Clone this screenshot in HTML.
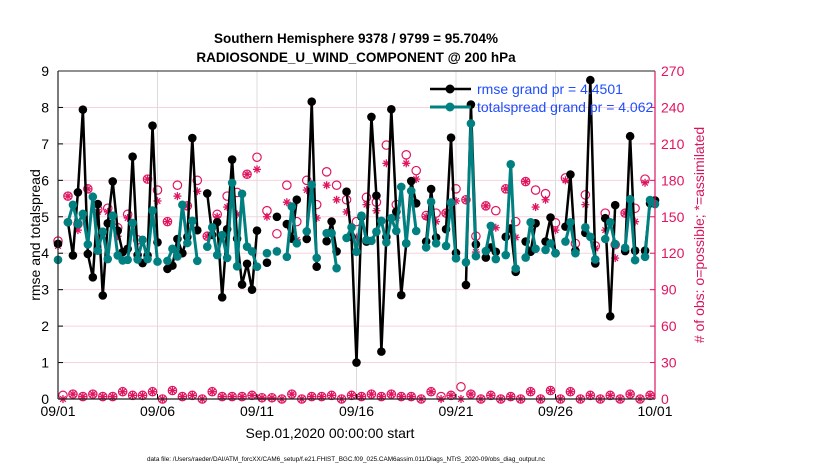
<!DOCTYPE html>
<html><head><meta charset="utf-8"><style>
html,body{margin:0;padding:0;background:#fff;}
svg{display:block;font-family:"Liberation Sans",Arial,sans-serif;}
</style></head><body>
<svg id="chart" width="830" height="470" viewBox="0 0 830 470" xmlns="http://www.w3.org/2000/svg">
<g id="grid"></g>
<g id="bottomObs"></g>
<g id="topObs"></g>
<g id="series"></g>
<g id="axes"></g>
<text x="356" y="43" text-anchor="middle" font-size="13.5" font-weight="bold">Southern Hemisphere 9378 / 9799 = 95.704%</text>
<text x="356" y="62" text-anchor="middle" font-size="13.5" font-weight="bold">RADIOSONDE_U_WIND_COMPONENT @ 200 hPa</text>
<text transform="translate(40,235) rotate(-90)" text-anchor="middle" font-size="14">rmse and totalspread</text>
<text transform="translate(704,235) rotate(-90)" text-anchor="middle" font-size="14" fill="#d6165c"># of obs: o=possible; *=assimilated</text>
<text x="330" y="438" text-anchor="middle" font-size="14">Sep.01,2020 00:00:00 start</text>
<text x="346" y="461" text-anchor="middle" font-size="6.8" textLength="398" lengthAdjust="spacingAndGlyphs">data file: /Users/raeder/DAI/ATM_forcXX/CAM6_setup/f.e21.FHIST_BGC.f09_025.CAM6assim.011/Diags_NTrS_2020-09/obs_diag_output.nc</text>
<g id="legend">
 <g>
  <line x1="430" y1="89" x2="471" y2="89" stroke="#000" stroke-width="2.5"/>
  <circle cx="450" cy="89" r="4.5" fill="#000"/>
  <text x="477" y="94" font-size="14" fill="#1f4cff">rmse grand pr = 4.4501</text>
 </g>
 <g>
  <line x1="430" y1="107" x2="471" y2="107" stroke="#008080" stroke-width="3"/>
  <circle cx="450" cy="107" r="4.5" fill="#008080"/>
  <text x="477" y="112" font-size="14" fill="#1f4cff">totalspread grand pr = 4.062</text>
 </g>
</g>
</svg>
<script>
const rmse = [4.26,null,4.85,3.94,5.67,7.94,3.98,3.34,5.35,2.84,4.82,5.97,4.62,4.03,4.12,6.65,3.95,3.73,3.94,7.5,4.3,null,3.57,3.66,4.39,4.0,4.45,7.16,4.63,null,5.64,4.5,4.85,2.79,4.66,6.57,4.4,3.14,3.71,3.0,4.62,null,3.74,null,5.0,null,4.8,4.4,5.47,null,4.39,8.16,3.63,null,4.33,4.87,4.05,null,5.69,4.45,1.0,5.0,4.32,7.74,5.58,1.3,4.45,7.95,5.14,2.85,4.27,5.98,5.37,null,4.32,5.76,4.43,null,4.66,7.17,4.01,null,3.13,8.08,4.24,null,3.88,4.16,4.04,null,4.45,4.68,3.49,null,4.32,4.04,4.82,null,4.32,4.98,4.0,null,4.73,6.16,4.07,null,4.56,8.75,3.72,null,4.96,2.27,5.32,null,4.06,7.21,4.07,null,4.07,5.37,5.45];
const spread = [3.82,null,4.85,5.33,4.80,5.08,4.24,5.55,4.07,4.59,3.84,5.03,3.94,3.80,3.82,4.83,3.83,4.37,3.84,5.17,3.77,null,3.79,4.12,3.91,5.33,4.28,4.89,3.79,null,4.18,4.71,3.95,4.5,3.87,5.93,3.64,5.63,4.18,4.05,3.63,null,4.0,null,4.05,null,3.9,5.28,4.27,null,4.6,5.88,3.87,null,4.55,4.55,3.59,null,4.42,4.71,4.04,5.03,4.36,4.34,4.59,4.89,4.3,4.96,4.61,5.82,4.27,5.71,4.61,null,4.16,5.41,4.27,null,4.2,5.39,3.86,null,3.75,7.56,3.92,null,4.06,4.75,3.84,null,3.95,6.44,3.58,null,3.88,4.85,4.12,null,4.09,4.27,4.0,null,4.32,4.85,4.0,null,4.71,4.45,3.83,null,4.39,4.85,4.25,null,4.15,5.48,3.81,null,3.9,5.46,5.35];
const obsPossible = [130,167,144,173,156,157,141,152,131,181,172,146,176,159,180,134,152,167,170,185,199,155,136,176,146,180,160,187,176,164,146,166,162,209,160,201,188,151,153,153,173,164,134,159,155,173,146,179,172,169,145,182,128,168,126,153,127,153,157,181];
const obsAssim = [126,167,139,173,154,154,134,149,119,181,163,146,167,159,171,134,150,158,152,185,189,150,122,162,131,172,149,176,164,154,133,160,155,194,149,194,181,150,146,153,163,164,121,159,141,173,133,179,158,164,139,180,120,160,124,139,116,153,146,178];
const lowPossible = [3,4,2,4,2,2,6,3,3,6,0,7,2,3,0,6,2,2,2,3,1,1,0,4,0,2,2,3,0,3,2,4,2,4,2,2,0,6,2,3,10,4,0,3,0,2,0,6,0,7,0,6,0,3,0,3,0,4,0,3];
const lowAssim = [0,4,2,4,2,2,6,3,3,6,0,7,2,3,0,6,2,2,2,3,1,1,0,4,0,2,2,3,0,3,2,4,2,4,2,2,0,6,0,3,0,4,0,3,0,2,0,6,0,7,0,6,0,3,0,3,0,4,0,3];
const xTickLabels = ["09/01","09/06","09/11","09/16","09/21","09/26","10/01"];
const yTicks = [0,1,2,3,4,5,6,7,8,9];
const y2Ticks = [0,30,60,90,120,150,180,210,240,270];

const NS="http://www.w3.org/2000/svg";
const X0=58,X1=655,Y0=399,Y1=71,NSTEP=120;
function xS(i){return X0+i*(X1-X0)/NSTEP;}
function yL(v){return Y0-v*(Y0-Y1)/9;}
function yR(c){return Y0-c*(Y0-Y1)/270;}
function mk(tag,attrs,parent){const e=document.createElementNS(NS,tag);for(const k in attrs)e.setAttribute(k,attrs[k]);parent.appendChild(e);return e;}
const grid=document.getElementById('grid'),axes=document.getElementById('axes'),series=document.getElementById('series');
const topObs=document.getElementById('topObs'),bottomObs=document.getElementById('bottomObs');
const PINK="#e0145f";

yTicks.forEach(v=>{
  if(v>0&&v<9){const l=mk('line',{x1:X0,x2:X1,y1:yL(v),y2:yL(v),stroke:'#f6d3df','stroke-width':1},grid);
  
  }
  const t=mk('text',{x:49,y:yL(v)+5,'text-anchor':'end','font-size':14},axes);t.textContent=v;
  
  
  mk('line',{x1:X0,x2:X0+5,y1:yL(v),y2:yL(v),stroke:'#000'},axes);
});
y2Ticks.forEach(c=>{
  const t=mk('text',{x:661,y:yR(c)+5,'font-size':14,fill:PINK},axes);t.textContent=c;
  
  
  mk('line',{x1:X1-5,x2:X1,y1:yR(c),y2:yR(c),stroke:PINK},axes);
});
xTickLabels.forEach((lab,k)=>{
  const x=xS(k*20);
  if(k>0&&k<6){const g=mk('line',{x1:x,x2:x,y1:Y1,y2:Y0,stroke:'#dcdcdc','stroke-width':1},grid);
  
  }
  mk('line',{x1:x,x2:x,y1:Y0,y2:Y0-5,stroke:'#000'},axes);
  const t=mk('text',{x:x,y:416,'text-anchor':'middle','font-size':14},axes);t.textContent=lab;
  
  
});
mk('line',{x1:X0,x2:X1,y1:Y1,y2:Y1,stroke:'#222','stroke-width':1},axes);
mk('line',{x1:X0,x2:X1,y1:Y0,y2:Y0,stroke:'#222','stroke-width':1.2},axes);
mk('line',{x1:X0,x2:X0,y1:Y1,y2:Y0,stroke:'#222','stroke-width':1.2},axes);
mk('line',{x1:X1,x2:X1,y1:Y1,y2:Y0,stroke:PINK,'stroke-width':1.2},axes);

function star(x,y,parent){
  const g=mk('g',{stroke:PINK,'stroke-width':1.3},parent);
  
  
  const r=4;
  mk('line',{x1:x-r,x2:x+r,y1:y,y2:y},g);
  mk('line',{x1:x,x2:x,y1:y-r,y2:y+r},g);
  mk('line',{x1:x-r*0.7,x2:x+r*0.7,y1:y-r*0.7,y2:y+r*0.7},g);
  mk('line',{x1:x-r*0.7,x2:x+r*0.7,y1:y+r*0.7,y2:y-r*0.7},g);
}
function ring(x,y,parent){
  const c=mk('circle',{cx:x,cy:y,r:4.2,fill:'none',stroke:PINK,'stroke-width':1.2},parent);
  
  
}
obsPossible.forEach((c,k)=>{ring(xS(2*k),yR(c),topObs);});
obsAssim.forEach((c,k)=>{star(xS(2*k),yR(c),topObs);});
lowPossible.forEach((c,k)=>{ring(xS(2*k+1),yR(c),bottomObs);});
lowAssim.forEach((c,k)=>{star(xS(2*k+1),yR(c),bottomObs);});

function drawSeries(arr,color,w,name){
  const g=mk('g',{},series);
  
  
  let d='',pen=false;
  arr.forEach((v,i)=>{if(v===null){pen=false;return;}d+=(pen?'L':'M')+xS(i).toFixed(2)+' '+yL(v).toFixed(2)+' ';pen=true;});
  const p=mk('path',{d:d,fill:'none',stroke:color,'stroke-width':w,'stroke-linejoin':'round'},g);
  
  
  arr.forEach((v,i)=>{if(v===null)return;
    const c=mk('circle',{cx:xS(i),cy:yL(v),r:4.3,fill:color},g);
    
    
  });
}
drawSeries(rmse,'#000',2.5,'rmse');
drawSeries(spread,'#008080',3,'totalspread');
</script>
</body></html>
